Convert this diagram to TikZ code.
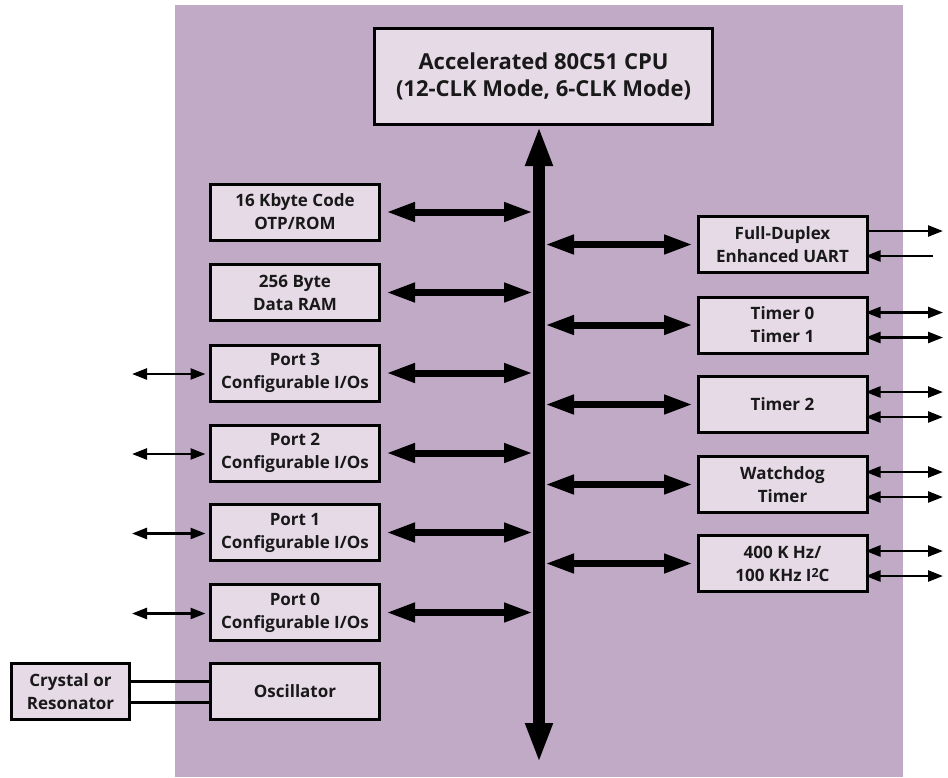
\documentclass[tikz,border=0pt]{standalone}
\usepackage{fontspec}
\setmainfont{Open Sans}
\usetikzlibrary{arrows.meta}
\definecolor{chipbg}{HTML}{C1AAC6}
\definecolor{blockfill}{HTML}{E6DAE7}
\tikzset{
  block/.style={draw=black, line width=3pt, fill=blockfill, inner sep=0pt,
    align=center, text=black!90,
    font=\bfseries\fontsize{17}{23}\selectfont,
    minimum width=169pt, minimum height=56pt},
  cpublock/.style={block, minimum width=338pt, minimum height=96pt,
    font=\bfseries\fontsize{22}{27}\selectfont},
  mainbus/.style={line width=12pt,
    {Triangle[length=40pt,width=25pt]}-{Triangle[length=40pt,width=25pt]}},
  buslink/.style={line width=7pt,
    {Triangle[length=29pt,width=18pt]}-{Triangle[length=29pt,width=18pt]}},
  pinlink/.style={line width=2.5pt,
    {Triangle[length=15pt,width=11pt]}-{Triangle[length=15pt,width=11pt]}},
  pinout/.style={line width=2.5pt, -{Triangle[length=15pt,width=11pt]}},
  xtalwire/.style={line width=3pt},
}
\begin{document}
\begin{tikzpicture}[x=1pt, y=-1pt]
\useasboundingbox (0,0) rectangle (948,777);
% chip outline
\fill[chipbg] (175,5) rectangle (903,777);

% CPU
\node[cpublock] (cpu) at (543.5,76.5) {Accelerated 80C51 CPU\\(12-CLK Mode, 6-CLK Mode)};

% left column
\node[block] (rom)  at (295,212)   {16 Kbyte Code\\OTP/ROM};
\node[block] (ram)  at (295,292.5) {256 Byte\\Data RAM};
\node[block] (p3)   at (295,373)   {Port 3\\Configurable I/Os};
\node[block] (p2)   at (295,453)   {Port 2\\Configurable I/Os};
\node[block] (p1)   at (295,532.5) {Port 1\\Configurable I/Os};
\node[block] (p0)   at (295,612.5) {Port 0\\Configurable I/Os};
\node[block] (osc)  at (295,691.5) {Oscillator};
\node[block, minimum width=118pt] (xtal) at (70.5,691.5) {Crystal or\\Resonator};

% right column
\node[block] (uart) at (782.5,244.5) {Full-Duplex\\Enhanced UART};
\node[block] (tmr)  at (782.5,325)   {Timer 0\\Timer 1};
\node[block] (tmr2) at (782.5,404.5) {Timer 2};
\node[block] (wdt)  at (782.5,484.5) {Watchdog\\Timer};
\node[block] (iic)  at (782.5,563.5) {400 K Hz/\\100 KHz I\raisebox{0.42ex}{\fontsize{12.5}{12.5}\selectfont 2}C};

% internal bus
\coordinate (busx) at (539,0);
\coordinate (busL) at (533,0);
\coordinate (busR) at (545,0);
\coordinate (busbot) at (539,763);
\draw[mainbus] (busbot) -- (cpu.south -| busx);

% bus links, left side
\foreach \b in {rom,ram,p3,p2,p1,p0}
  \draw[buslink, shorten <=5pt] (\b.east) -- (\b.east -| busL);
% bus links, right side
\foreach \b in {uart,tmr,tmr2,wdt,iic}
  \draw[buslink, shorten >=3.5pt] (\b.west -| busR) -- (\b.west);

% port pins
\coordinate (pinL) at (132,0);
\foreach \b in {p3,p2,p1,p0}
  \draw[pinlink, shorten >=3.5pt] ([yshift=-1pt]\b.west -| pinL) -- ([yshift=-1pt]\b.west);

% UART pins
\coordinate (txd) at (943,231);
\coordinate (rxd) at (933,256);
\draw[pinout] (txd -| uart.east) -- (txd);
\draw[pinout, shorten >=-3pt] (rxd) -- (rxd -| uart.east);

% peripheral pins
\coordinate (pinR) at (943,0);
\foreach \b in {tmr,tmr2,wdt,iic} {
  \draw[pinlink, shorten <=-3pt] ([yshift=12.5pt]\b.east) -- ([yshift=12.5pt]\b.east -| pinR);
  \draw[pinlink, shorten <=-3pt] ([yshift=-12.5pt]\b.east) -- ([yshift=-12.5pt]\b.east -| pinR);
}

% crystal wires
\coordinate (xa) at (0,681);
\coordinate (xb) at (0,702);
\draw[xtalwire] (xa -| xtal.east) -- (xa -| osc.west);
\draw[xtalwire] (xb -| xtal.east) -- (xb -| osc.west);
\end{tikzpicture}
\end{document}
